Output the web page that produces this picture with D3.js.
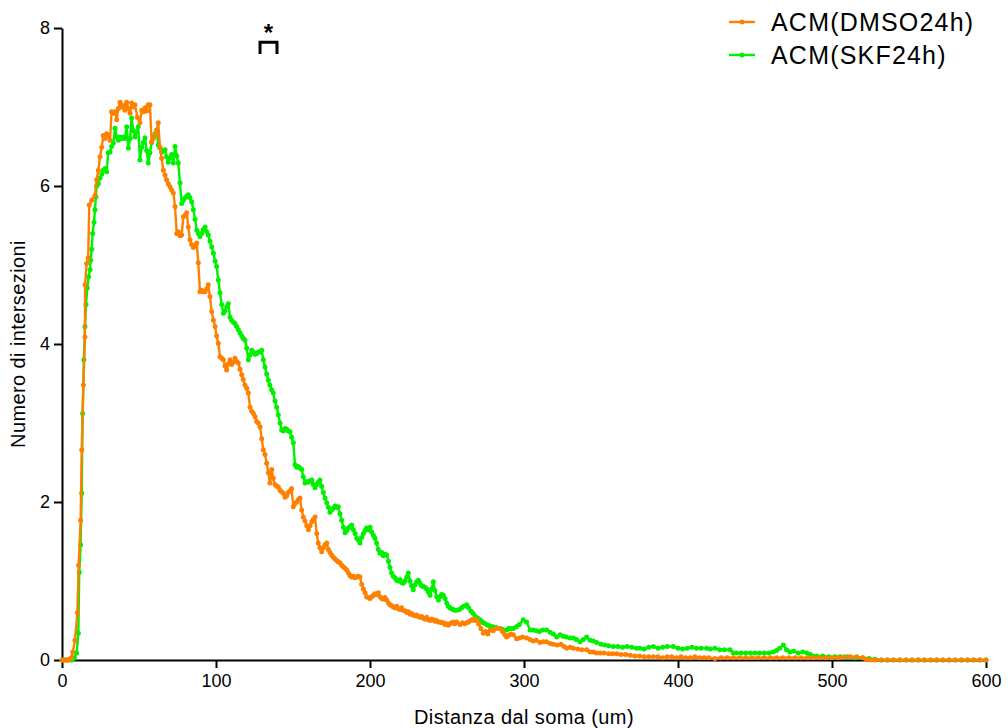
<!doctype html>
<html lang="en">
<head>
<meta charset="UTF-8">
<title>Numero di intersezioni</title>
<script src="https://d3js.org/d3.v7.min.js"></script>
<style>
  body { margin: 0; background: #fff; }
  text { font-family: "Liberation Sans", Arial, sans-serif; fill: #000; }
</style>
</head>
<body>
<div id="chart"></div>
<script>
// ---- data ----
const seriesNames = ['ACM(DMSO24h)', 'ACM(SKF24h)'];
const seriesColors = ['#ff8000', '#00f000'];
const xTicks = [0, 100, 200, 300, 400, 500, 600];
const yTicks = [0, 2, 4, 6, 8];

// [distance, intersections]
const dmso = [
  [0,0],[1,0],[2,0],[3,0],[4,0],[5,0.01],[6,0.03],[7,0.1],[8.4,0.25],[10,0.6],[10.8,1.2],[12.1,1.77],
  [12.8,2.66],[13.9,3.48],[14.9,4.09],[15,4.75],[16,5.02],[17,5.09],[17.7,5.76],[19.3,5.82],[21.4,5.88],
  [22.5,6.08],[23.6,6.2],[24.7,6.37],[25.8,6.49],[26.8,6.64],[28,6.6],[29,6.66],[30,6.64],[31.2,6.58],
  [32.2,6.94],[33.3,6.92],[34.4,6.94],[35.5,6.84],[36.6,6.98],[37.7,7.06],[38.8,7.0],[39.8,7.02],[40.9,6.96],
  [42,7.06],[43.1,6.98],[44.2,6.92],[45.2,7.05],[46.3,7.0],[47.4,7.03],[48.9,6.87],[50.6,6.8],[51.8,6.96],
  [53,6.94],[53.9,6.99],[55,6.95],[56,7.03],[57.1,7.03],[58.2,6.56],[59.3,6.6],[60.4,6.64],[61.5,6.7],
  [62.5,6.8],[63.6,6.49],[64.7,6.35],[65.8,6.2],[66.9,6.14],[67.9,6.08],[69,6.03],[70.1,5.99],[71.2,5.95],
  [72.3,5.91],[73.4,5.74],[74.5,5.4],[75.5,5.42],[76.6,5.37],[77.7,5.38],[78.8,5.61],[79.9,5.63],[81,5.66],
  [82,5.48],[83.1,5.32],[84.2,5.26],[85.3,5.22],[86.4,5.24],[87.5,5.28],[88.5,5.03],[89.6,4.66],[90.7,4.68],
  [91.8,4.66],[92.9,4.66],[94,4.7],[95,4.75],[96.1,4.6],[97.2,4.41],[98.3,4.3],[99.4,4.22],[100.4,4.1],
  [101.5,4.01],[102.6,3.84],[103.7,3.82],[104.8,3.8],[105.9,3.72],[106.9,3.67],[108,3.75],[109.1,3.8],
  [110.1,3.74],[111.2,3.77],[112.3,3.82],[113.4,3.78],[114.5,3.76],[115.6,3.68],[116.7,3.61],[117.7,3.55],
  [118.8,3.48],[119.9,3.44],[121,3.38],[122.1,3.2],[123.2,3.15],[124.3,3.12],[125.4,3.08],[126.4,3.02],
  [127.5,3.0],[128.6,2.95],[129.7,2.8],[130.7,2.66],[131.8,2.6],[132.9,2.49],[134,2.37],[135,2.24],
  [136.2,2.41],[137.2,2.3],[138.3,2.22],[139.4,2.2],[140.5,2.19],[141.6,2.15],[142.6,2.13],[143.7,2.11],
  [144.8,2.06],[145.9,2.08],[146.9,2.12],[148,2.14],[149.1,2.17],[150.2,1.94],[151.3,1.98],[152.4,2.0],
  [153.4,2.03],[154.5,2.05],[155.6,1.9],[156.7,1.81],[157.8,1.76],[158.9,1.7],[160,1.65],[161.1,1.7],
  [162.2,1.75],[163.2,1.78],[164.3,1.81],[165.4,1.6],[166.4,1.48],[167.5,1.42],[168.6,1.37],[169.7,1.42],
  [170.8,1.46],[171.9,1.48],[173,1.4],[174,1.36],[175.1,1.33],[176.2,1.3],[177.3,1.28],[178.4,1.26],
  [179.4,1.24],[180.5,1.23],[181.6,1.2],[182.7,1.18],[183.8,1.16],[184.9,1.14],[186,1.1],[187,1.07],
  [188.1,1.05],[189.2,1.06],[190.3,1.04],[191.4,1.05],[192.4,1.06],[193.5,1.05],[194.6,0.96],[195.7,0.9],
  [196.8,0.85],[197.8,0.8],[198.9,0.79],[200,0.78],[201.1,0.8],[202.2,0.82],[203.2,0.84],[204.3,0.83],
  [205.4,0.85],[206.5,0.8],[207.6,0.78],[208.6,0.77],[209.7,0.79],[210.8,0.76],[212,0.72],[213,0.7],
  [214,0.69],[215.1,0.67],[216.2,0.66],[217.3,0.68],[218.4,0.65],[219.5,0.64],[220.5,0.66],[221.6,0.63],
  [223,0.62],[224,0.6],[225,0.61],[226,0.58],[227,0.59],[228.1,0.57],[229.2,0.56],[230.3,0.57],[231.4,0.55],
  [232.4,0.54],[233.5,0.55],[234.6,0.53],[235.7,0.52],[236.8,0.54],[237.8,0.51],[239,0.5],[240,0.52],
  [241.1,0.51],[242.2,0.49],[243.2,0.5],[244.3,0.48],[245.4,0.48],[246.5,0.47],[247.6,0.47],[248.6,0.45],
  [249.7,0.46],[250.8,0.44],[251.9,0.46],[253,0.47],[254,0.48],[255,0.46],[256.3,0.48],[258.4,0.45],
  [260,0.47],[261.5,0.46],[262.8,0.47],[264,0.48],[265.5,0.5],[267,0.52],[268,0.5],[269.3,0.51],
  [270.5,0.46],[272,0.4],[273.6,0.34],[275,0.36],[276.5,0.33],[278,0.38],[280,0.37],[282,0.4],[284.4,0.4],
  [286,0.36],[287.5,0.32],[288.7,0.29],[290,0.31],[291.5,0.33],[293.1,0.32],[295.2,0.27],[297,0.28],
  [299,0.29],[301.7,0.28],[304,0.26],[306,0.24],[308,0.25],[310.4,0.22],[312.5,0.23],[314.7,0.23],
  [317,0.21],[319,0.2],[321.5,0.19],[324,0.2],[326,0.17],[327.7,0.15],[330,0.16],[332,0.15],[335,0.14],
  [337.5,0.13],[340.7,0.13],[342.9,0.1],[345,0.1],[347,0.09],[349.4,0.09],[352,0.09],[355,0.08],
  [357.5,0.08],[360.2,0.08],[363,0.07],[366,0.07],[369,0.06],[372,0.05],[375,0.05],[378,0.04],[381,0.04],
  [384,0.04],[387,0.04],[390,0.03],[393,0.04],[396,0.04],[399,0.03],[402,0.04],[405,0.03],[408,0.03],
  [411,0.04],[414,0.03],[417,0.03],[420,0.03],[424,0.02],[428,0.03],[432,0.03],[436,0.03],[440,0.03],
  [444,0.03],[448,0.03],[452,0.03],[456,0.03],[460,0.03],[464,0.03],[468,0.03],[472,0.03],[476,0.03],
  [480,0.03],[484,0.03],[488,0.03],[492,0.03],[496,0.03],[500,0.03],[504,0.03],[508,0.04],[512,0.04],
  [516,0.04],[520,0.03],[522,0.01],[525,0],[528,0],[532,0],[536,0],[540,0],[544,0],[548,0],[552,0],
  [556,0],[560,0],[564,0],[568,0],[572,0],[576,0],[580,0],[584,0],[588,0],[592,0],[596,0],[600,0]
];

const skf = [
  [0,0],[2,0],[4,0],[6,0],[7,0.01],[8,0.03],[9.5,0.09],[10.6,0.34],[11.2,1.11],[12.1,1.46],[12.8,2.11],
  [13.4,3.12],[14.2,3.8],[14.9,4.22],[15.6,4.5],[16.4,4.71],[17.3,4.85],[18.2,4.94],[18.6,5.06],[19.3,5.2],
  [19.9,5.4],[20.8,5.54],[21.4,5.7],[22,5.86],[22.5,6.0],[23.6,6.03],[24.7,6.1],[25.8,6.15],[26.8,6.2],
  [28,6.22],[29,6.18],[30,6.42],[31.2,6.43],[32.2,6.5],[33.3,6.54],[34.4,6.73],[35.5,6.62],[36.6,6.58],
  [37.7,6.62],[38.8,6.6],[39.8,6.62],[40.9,6.6],[42,6.75],[43.1,6.48],[44.2,6.6],[45.2,6.86],[46.3,6.7],
  [47.4,6.62],[48.4,6.68],[49.5,6.75],[50.6,6.33],[51.8,6.49],[52.8,6.55],[53.9,6.61],[55,6.45],[56,6.29],
  [57.1,6.42],[58.2,6.55],[59.3,6.62],[60.4,6.66],[61.5,6.71],[62.5,6.52],[63.6,6.48],[64.7,6.43],
  [65.8,6.45],[66.9,6.46],[67.9,6.37],[69,6.3],[70.1,6.35],[71.2,6.4],[72.3,6.29],[73.4,6.5],[74.5,6.38],
  [75.5,6.29],[76.6,6.04],[77.7,5.78],[78.8,5.82],[79.9,5.85],[81,5.87],[82,5.89],[83.1,5.85],[84.2,5.8],
  [85.3,5.7],[86.4,5.58],[87.5,5.44],[88.5,5.4],[89.6,5.36],[90.7,5.4],[91.8,5.45],[92.9,5.48],[94,5.42],
  [95,5.38],[96.1,5.3],[97.2,5.23],[98.3,5.15],[99.4,5.05],[100.4,4.98],[101.5,4.81],[102.6,4.65],
  [103.7,4.5],[104.8,4.39],[105.9,4.42],[106.9,4.47],[108,4.51],[109.1,4.34],[110.1,4.3],[111.2,4.28],
  [112.3,4.26],[113.4,4.22],[114.5,4.18],[115.6,4.14],[116.7,4.1],[117.7,4.07],[118.8,4.05],[119.9,3.95],
  [121,3.8],[122.1,3.86],[123.2,3.92],[124.3,3.9],[125.4,3.87],[126.4,3.88],[127.5,3.9],[128.6,3.9],
  [129.7,3.92],[130.7,3.8],[131.8,3.71],[132.9,3.62],[134,3.54],[135,3.48],[136.1,3.42],[137.2,3.38],
  [138.3,3.28],[139.4,3.2],[140.5,3.1],[141.6,3.0],[142.6,2.91],[143.7,2.9],[144.8,2.93],[145.9,2.92],
  [146.9,2.9],[148,2.89],[149.1,2.82],[150.2,2.75],[151.3,2.47],[152.4,2.44],[153.4,2.45],[154.5,2.43],
  [155.7,2.41],[156.7,2.32],[157.8,2.24],[158.9,2.26],[160,2.25],[161.1,2.27],[162.2,2.28],[163.2,2.22],
  [164.3,2.18],[165.4,2.22],[166.4,2.25],[167.5,2.28],[168.6,2.2],[169.7,2.12],[170.8,2.05],[171.9,1.99],
  [173,1.93],[174,1.87],[175.1,1.9],[176.2,1.92],[177.3,1.95],[178.4,1.93],[179.4,1.94],[180.5,1.85],
  [181.6,1.77],[182.7,1.68],[183.8,1.61],[184.9,1.64],[186,1.67],[187,1.69],[188.1,1.71],[189.2,1.65],
  [190.3,1.6],[191.4,1.54],[192.4,1.52],[193.5,1.48],[194.6,1.55],[195.7,1.6],[196.8,1.64],[197.8,1.67],
  [198.9,1.65],[200,1.68],[201.1,1.62],[202.2,1.58],[203.2,1.54],[204.3,1.48],[205.4,1.4],[206.5,1.35],
  [207.6,1.36],[208.6,1.32],[209.7,1.34],[210.8,1.33],[212,1.25],[213,1.17],[214,1.1],[215.1,1.06],
  [216.2,1.04],[217.3,1.01],[218.4,1.0],[219.5,1.02],[220.5,0.98],[221.6,0.97],[222.7,1.0],[223.8,1.05],
  [224.9,1.1],[226,1.0],[227,0.94],[228.1,0.89],[229.2,0.95],[230.3,0.99],[231.4,1.01],[232.5,0.97],
  [233.5,0.94],[234.6,0.93],[235.7,0.92],[236.8,0.9],[237.9,0.86],[239,0.82],[240,0.9],[241.1,0.99],
  [242.2,0.88],[243.3,0.8],[244.4,0.76],[245.5,0.8],[246.5,0.83],[247.6,0.82],[248.7,0.78],[249.8,0.72],
  [250.8,0.68],[251.9,0.66],[253,0.65],[254,0.64],[255,0.63],[256.3,0.63],[258,0.64],[259.5,0.66],
  [261,0.68],[262.8,0.7],[264,0.66],[265.5,0.62],[267,0.59],[268.5,0.55],[270,0.53],[271.4,0.51],
  [272.5,0.49],[273.6,0.47],[275,0.46],[276.5,0.44],[278,0.43],[280,0.42],[282,0.41],[284.4,0.4],
  [286,0.39],[288.7,0.38],[290,0.4],[291.5,0.4],[293.1,0.4],[295,0.42],[297,0.45],[299.5,0.51],
  [301.7,0.48],[303.9,0.38],[306,0.38],[308,0.37],[310,0.36],[312,0.38],[314.7,0.38],[317,0.35],
  [319,0.33],[321.2,0.29],[323.4,0.32],[325.5,0.3],[327.5,0.29],[330,0.28],[332,0.28],[334,0.26],
  [336.4,0.23],[338.5,0.26],[340.7,0.29],[342.9,0.25],[345,0.24],[347.2,0.22],[350,0.2],[352.5,0.19],
  [355,0.18],[358,0.17],[361,0.17],[364,0.16],[367,0.17],[370,0.16],[373,0.15],[375.3,0.15],[378,0.14],
  [381,0.16],[384,0.17],[387,0.15],[390,0.16],[393,0.17],[396.9,0.17],[400,0.15],[403,0.14],[406,0.15],
  [409,0.16],[412,0.15],[415,0.15],[418.6,0.15],[421,0.14],[424,0.15],[427,0.13],[430,0.13],[433.8,0.13],
  [435.9,0.09],[438,0.09],[441,0.09],[444,0.09],[447,0.09],[450,0.09],[453,0.09],[456,0.09],[459,0.09],
  [461.9,0.1],[464,0.12],[466,0.15],[468.4,0.19],[470.5,0.13],[472.7,0.1],[475,0.11],[478,0.09],
  [481,0.1],[483.6,0.09],[486,0.07],[490,0.05],[494,0.05],[498,0.04],[502,0.04],[505.2,0.04],[510,0.04],
  [515,0.03],[520,0.03],[524,0.02],[528,0.01],[532,0],[536,0],[540,0],[544,0],[548,0],[552,0],[556,0],
  [560,0],[564,0],[568,0],[572,0],[576,0],[580,0],[584,0],[588,0],[592,0],[596,0],[600,0]
];

// significance bracket: [x0, x1, yTop, yLeg]
const sigBracket = [128.6, 139.6, 7.82, 7.67];

// ---- layout ----
const width = 1008, height = 728;
const margin = { left: 62, top: 28, right: 22, bottom: 68 };
const innerW = width - margin.left - margin.right;
const innerH = height - margin.top - margin.bottom;

const svg = d3.select('#chart').append('svg')
  .attr('width', width)
  .attr('height', height);

const g = svg.append('g')
  .attr('transform', `translate(${margin.left},${margin.top})`);

const x = d3.scaleLinear().domain([0, 600]).range([0, innerW]);
const y = d3.scaleLinear().domain([0, 8]).range([innerH, 0]);

// axes
const xAxis = g.append('g')
  .attr('transform', `translate(0,${innerH})`)
  .call(d3.axisBottom(x).tickValues(xTicks).tickSize(8).tickSizeOuter(0).tickPadding(6));
const yAxis = g.append('g')
  .call(d3.axisLeft(y).tickValues(yTicks).tickSize(8).tickSizeOuter(0).tickPadding(4));

[xAxis, yAxis].forEach(a => {
  a.selectAll('path, line').attr('stroke', '#000').attr('stroke-width', 2);
  a.selectAll('text').style('font-size', '18px').style('font-family', '"Liberation Sans", Arial, sans-serif').attr('fill', '#000');
});

// lines (green under orange)
const line = d3.line().x(d => x(d[0])).y(d => y(d[1]));
const series = [skf, dmso];
const colors = [seriesColors[1], seriesColors[0]];

series.forEach((data, i) => {
  g.append('path')
    .datum(data)
    .attr('d', line)
    .attr('fill', 'none')
    .attr('stroke', colors[i])
    .attr('stroke-width', 2.4)
    .attr('stroke-linejoin', 'round');
  g.append('g').selectAll('circle')
    .data(data)
    .join('circle')
    .attr('cx', d => x(d[0]))
    .attr('cy', d => y(d[1]))
    .attr('r', 2.5)
    .attr('fill', colors[i]);
});

// significance bracket
g.append('path')
  .attr('d', `M${x(sigBracket[0])},${y(sigBracket[3])}V${y(sigBracket[2])}H${x(sigBracket[1])}V${y(sigBracket[3])}`)
  .attr('fill', 'none')
  .attr('stroke', '#000')
  .attr('stroke-width', 3);
g.append('text')
  .attr('x', x((sigBracket[0] + sigBracket[1]) / 2))
  .attr('y', y(sigBracket[2]) - 1)
  .attr('text-anchor', 'middle')
  .style('font-size', '24px')
  .style('font-weight', 'bold')
  .text('*');

// axis titles
svg.append('text')
  .attr('x', margin.left + innerW / 2)
  .attr('y', 724)
  .attr('text-anchor', 'middle')
  .style('font-size', '20px')
  .style('letter-spacing', '0.4px')
  .text('Distanza dal soma (um)');
svg.append('text')
  .attr('transform', `translate(25,${margin.top + innerH / 2}) rotate(-90)`)
  .attr('text-anchor', 'middle')
  .style('font-size', '20px')
  .style('letter-spacing', '0.4px')
  .text('Numero di intersezioni');

// legend
const legend = svg.append('g').attr('transform', 'translate(729,22)');
seriesNames.forEach((name, i) => {
  const row = legend.append('g').attr('transform', `translate(0,${i * 33})`);
  row.append('line').attr('x1', 0).attr('x2', 26).attr('y1', 0).attr('y2', 0)
    .attr('stroke', seriesColors[i]).attr('stroke-width', 2.4);
  row.append('circle').attr('cx', 13).attr('cy', 0).attr('r', 2.5).attr('fill', seriesColors[i]);
  row.append('text').attr('x', 42).attr('y', 9).style('font-size', '25px').style('letter-spacing', '1.2px').text(name);
});
</script>
</body>
</html>
